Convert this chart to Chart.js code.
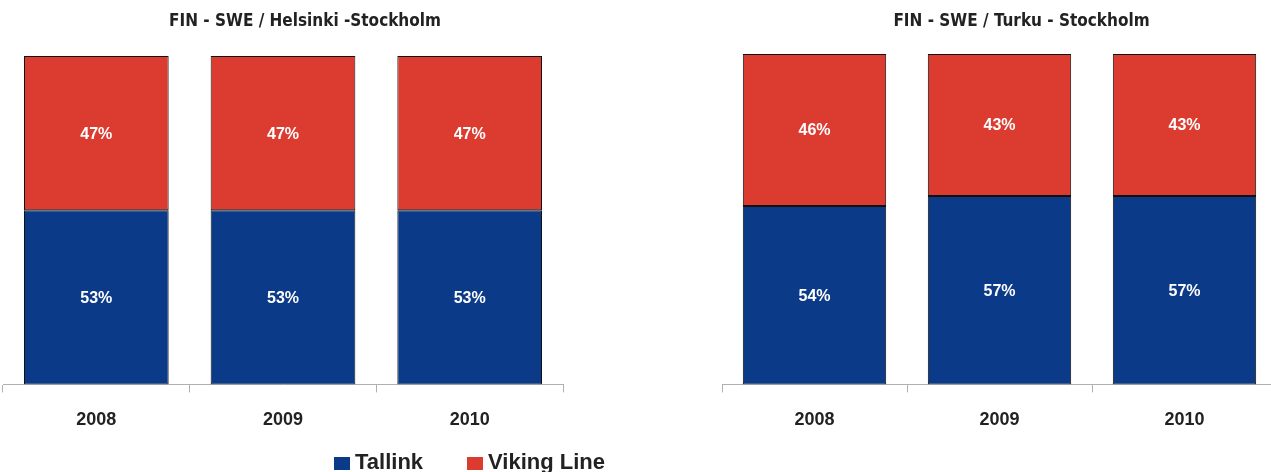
<!DOCTYPE html>
<html lang="en">
<head>
    <meta charset="UTF-8">
    <title>FIN - SWE market shares</title>
    <script src="https://cdn.jsdelivr.net/npm/chart.js"></script>
    <style>
        html, body { margin: 0; padding: 0; background: #fff; overflow: hidden; }
        body { width: 1271px; height: 472px; position: relative; }
        canvas { position: absolute; top: 0; }
        #chartHel { left: 0; }
        #chartTur { left: 720px; }
        .legend {
            position: absolute; top: 449px; left: 334px;
            display: flex; align-items: center; line-height: 26px;
            font-family: "Liberation Sans", Arial, sans-serif;
            font-weight: bold; font-size: 22px; color: #222;
        }
        .legend span.box { display: inline-block; width: 16px; height: 13px; margin-right: 5px; margin-top: 3px; }
        .legend .item { display: flex; align-items: center; margin-right: 44px; }
    </style>
</head>
<body>

    <canvas id="chartHel" width="610" height="460"></canvas>
    <canvas id="chartTur" width="600" height="460"></canvas>

    <div class="legend">
        <div class="item"><span class="box" style="background:#0b3a88"></span>Tallink</div>
        <div class="item"><span class="box" style="background:#dc3b30"></span>Viking Line</div>
    </div>

    <script>
        // --- data ---
        const years = ['2008', '2009', '2010'];
        const helsinkiTallink = [53, 53, 53];
        const helsinkiViking = [47, 47, 47];
        const turkuTallink = [54, 57, 57];
        const turkuViking = [46, 43, 43];

        const blue = '#0b3a88';
        const red = '#dc3b30';

        // percent labels in the middle of each segment
        const segmentLabels = {
            id: 'segmentLabels',
            afterDatasetsDraw(chart) {
                const c = chart.ctx;
                c.save();
                c.fillStyle = '#ffffff';
                c.font = 'bold 16px "Liberation Sans", Arial, sans-serif';
                c.textAlign = 'center';
                c.textBaseline = 'middle';
                chart.data.datasets.forEach((ds, i) => {
                    chart.getDatasetMeta(i).data.forEach((bar, j) => {
                        c.fillText(ds.data[j] + '%', bar.x, (bar.y + bar.base) / 2 + 1);
                    });
                });
                c.restore();
            }
        };

        // chart heading, a bit right of the plot centre like in the original slide
        const heading = {
            id: 'heading',
            afterDraw(chart, args, opts) {
                const c = chart.ctx;
                const a = chart.chartArea;
                c.save();
                c.fillStyle = '#222';
                c.font = 'bold 17px "DejaVu Sans Condensed", "Liberation Sans", sans-serif';
                c.textAlign = 'center';
                c.textBaseline = 'middle';
                c.fillText(opts.text, (a.left + a.right) / 2 + opts.shift, 22);
                c.restore();
            }
        };

        function makeChart(id, title, tallink, viking, pad) {
            return new Chart(document.getElementById(id), {
                type: 'bar',
                data: {
                    labels: years,
                    datasets: [
                        { label: 'Tallink', data: tallink, backgroundColor: blue, borderColor: '#111', borderWidth: 1, borderSkipped: false },
                        { label: 'Viking Line', data: viking, backgroundColor: red, borderColor: '#111', borderWidth: 1, borderSkipped: false }
                    ]
                },
                options: {
                    responsive: false,
                    animation: false,
                    layout: { padding: pad },
                    datasets: { bar: { categoryPercentage: 1, barPercentage: 0.775 } },
                    plugins: {
                        legend: { display: false },
                        tooltip: { enabled: false },
                        heading: { text: title, shift: 22 }
                    },
                    scales: {
                        x: {
                            stacked: true,
                            border: { display: true, color: '#b0b0b0', width: 1 },
                            grid: { display: true, drawOnChartArea: false, drawTicks: true, tickLength: 8, color: '#b0b0b0', offset: true },
                            ticks: {
                                color: '#222',
                                padding: 17,
                                font: { family: '"Liberation Sans", Arial, sans-serif', size: 18, weight: 'bold' }
                            }
                        },
                        y: { stacked: true, display: false, min: 0, max: 100 }
                    }
                },
                plugins: [segmentLabels, heading]
            });
        }

        makeChart('chartHel', 'FIN - SWE / Helsinki -Stockholm', helsinkiTallink, helsinkiViking,
            { top: 56, left: 3, right: 47, bottom: 12 });
        makeChart('chartTur', 'FIN - SWE / Turku - Stockholm', turkuTallink, turkuViking,
            { top: 54, left: 2, right: 43, bottom: 12 });
    </script>
</body>
</html>
